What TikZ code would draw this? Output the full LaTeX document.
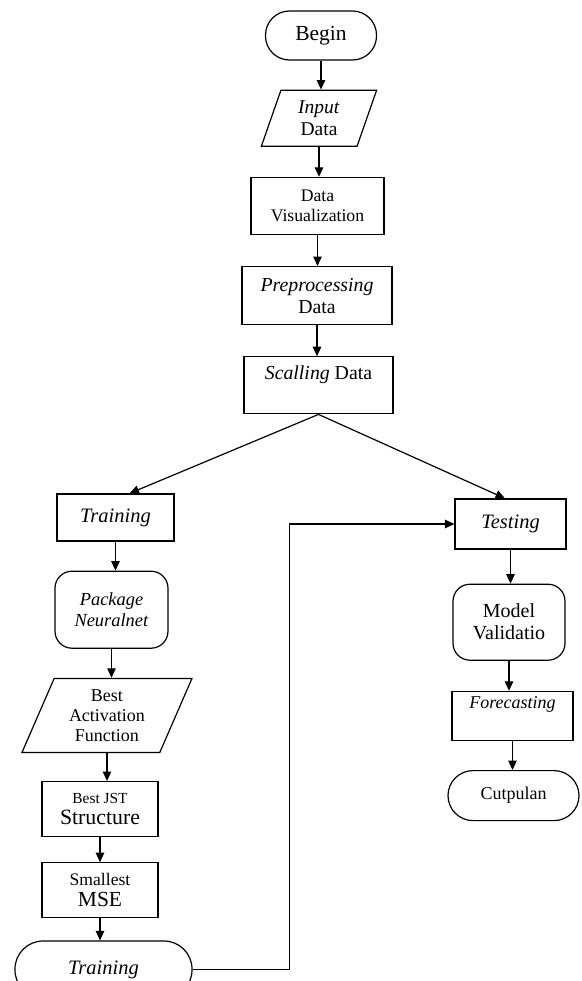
\documentclass[tikz,border=0pt]{standalone}
\usepackage{fontspec}
\setmainfont{Liberation Serif}
\usetikzlibrary{shapes.geometric,arrows.meta,positioning}

\begin{document}
\begin{tikzpicture}[x=1pt, y=-1pt, line width=1.2pt, font=\fontsize{18}{21}\selectfont,
    box/.style={draw, rectangle, inner sep=0pt, align=center},
    term/.style={draw, rectangle, rounded corners=24pt, inner sep=0pt, align=center},
    soft/.style={draw, rectangle, rounded corners=17pt, inner sep=0pt, align=center},
    io/.style={draw, trapezium, trapezium stretches=true, inner sep=0pt, align=center},
    arr/.style={-{Triangle[length=9.5pt,width=8.5pt]}, line width=1.2pt}]
    \useasboundingbox (0,0) rectangle (581,981);

    % Main column
    \node[term, minimum width=111pt, minimum height=49pt, font=\fontsize{21.5}{24}\selectfont] (begin) at (321,35.5) {Begin};
    \node[io, minimum width=116pt, minimum height=56pt, trapezium left angle=73, trapezium right angle=107, font=\fontsize{19.5}{22}\selectfont, below=29pt of begin, xshift=-2pt] (input) {\textit{Input}\\Data};
    \node[box, minimum width=133pt, minimum height=57pt, font=\fontsize{17.7}{20}\selectfont, below=30pt of input, xshift=-1.5pt] (visual) {Data\\Visualization};
    \node[box, minimum width=150pt, minimum height=58pt, font=\fontsize{19.8}{22}\selectfont, below=31pt of visual, xshift=-0.5pt] (prepro) {\textit{Preprocessing}\\Data};
    \node[box, minimum width=149pt, minimum height=57pt, font=\fontsize{19.8}{22}\selectfont, below=31pt of prepro, xshift=1.5pt] (scaling) {\textit{Scalling} Data\\[4pt]};

    % Training branch
    \node[box, minimum width=117pt, minimum height=47pt, font=\fontsize{20.5}{23}\selectfont] (train) at (115.5,517.5) {\textit{Training}};
    \node[soft, minimum width=113pt, minimum height=77pt, font=\fontsize{18.4}{21}\selectfont, below=29pt of train, xshift=-4pt] (package) {\textit{Package}\\\textit{Neuralnet}};
    \node[io, minimum width=170pt, minimum height=74pt, trapezium left angle=66, trapezium right angle=114, font=\fontsize{18}{20}\selectfont, below=29pt of package, xshift=-4.5pt] (activ) {Best\\Activation\\Function};
    \node[box, minimum width=116pt, minimum height=55pt, below=28pt of activ, xshift=-7pt] (struct) {{\fontsize{15.4}{17}\selectfont Best JST}\\{\fontsize{21.8}{24}\selectfont Structure}};
    \node[box, minimum width=116pt, minimum height=55pt, below=25pt of struct] (mse) {{\fontsize{17.6}{19}\selectfont Smallest}\\{\fontsize{21.5}{24}\selectfont MSE}};
    \node[term, minimum width=177pt, minimum height=57pt, rounded corners=28pt, font=\fontsize{20.5}{23}\selectfont, below=22pt of mse, xshift=3.5pt] (trainmod) {\textit{Training}};

    % Testing branch
    \node[box, minimum width=111pt, minimum height=50pt, font=\fontsize{20.5}{23}\selectfont] (test) at (510.5,524) {\textit{Testing}};
    \node[soft, minimum width=112pt, minimum height=76pt, font=\fontsize{20}{22}\selectfont, below=34pt of test, xshift=-1.5pt] (valid) {Model\\Validatio};
    \node[box, minimum width=121pt, minimum height=49pt, font=\fontsize{18}{20}\selectfont, below=30pt of valid, xshift=3.5pt] (forecast) {\textit{Forecasting}\\[6pt]};
    \node[term, minimum width=131pt, minimum height=50pt, rounded corners=25pt, font=\fontsize{18}{21}\selectfont, below=29pt of forecast, xshift=1pt] (cutpulan) {Cutpulan};

    % Connections
    \draw[arr] (begin.south) -- (begin.south |- input.north);
    \draw[arr] (input.south) -- (input.south |- visual.north);
    \draw[arr] (visual.south) -- (visual.south |- prepro.north);
    \draw[arr] (prepro.south) -- (prepro.south |- scaling.north);
    \draw[arr] (scaling.south) -- ([xshift=14pt]train.north);
    \draw[arr] (scaling.south) -- ([xshift=-5.5pt]test.north);
    \draw[arr] (train.south) -- (train.south |- package.north);
    \draw[arr] (package.south) -- (package.south |- activ.north);
    \draw[arr] (activ.south) -- (activ.south |- struct.north);
    \draw[arr] (struct.south) -- (struct.south |- mse.north);
    \draw[arr] (mse.south) -- (mse.south |- trainmod.north);
    \draw[arr] (trainmod.east) -- ++(97,0) |- (test.west);
    \draw[arr] (test.south) -- (test.south |- valid.north);
    \draw[arr] (valid.south) -- (valid.south |- forecast.north);
    \draw[arr] (forecast.south) -- (forecast.south |- cutpulan.north);
\end{tikzpicture}
\end{document}
